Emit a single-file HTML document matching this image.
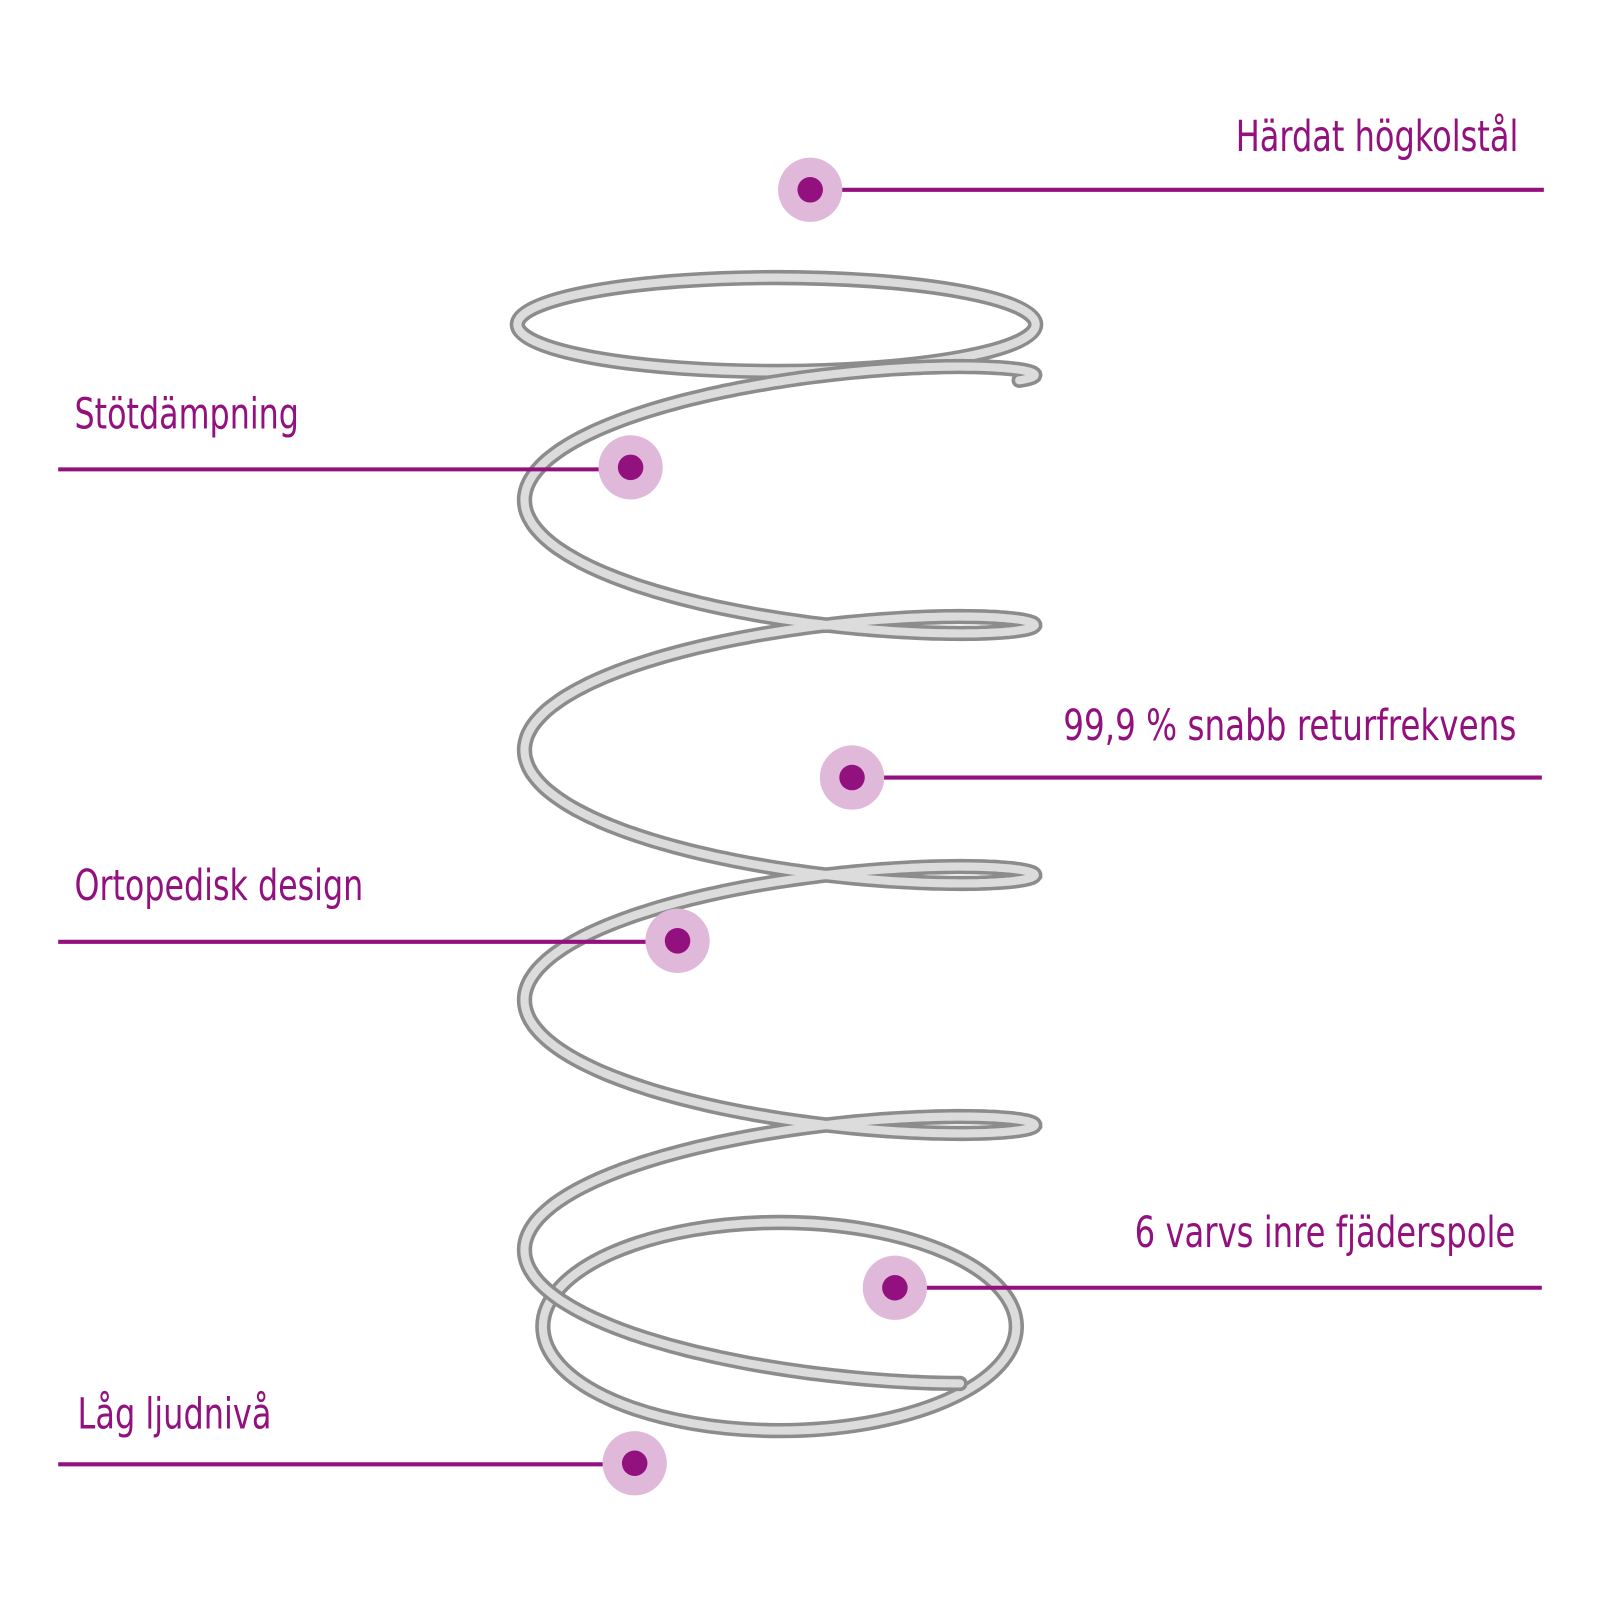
<!DOCTYPE html>
<html><head><meta charset="utf-8"><style>
html,body{margin:0;padding:0;background:#fff;}
svg{display:block}
text{font-family:"DejaVu Sans Condensed","DejaVu Sans","Liberation Sans",sans-serif;font-size:42px;fill:#92117e;}
</style></head><body>
<svg id="s" width="1600" height="1600" viewBox="0 0 1600 1600" xmlns="http://www.w3.org/2000/svg">
<g transform="scale(1.0204)">
<g id="spring" fill="none" stroke-linecap="round">
  <ellipse cx="761" cy="318" rx="254" ry="46" stroke="#8c8c8c" stroke-width="15"/>
  <ellipse cx="761" cy="318" rx="254" ry="46" stroke="#dcdcdc" stroke-width="8"/>
  <ellipse cx="764" cy="1300" rx="232" ry="102" stroke="#8c8c8c" stroke-width="15"/>
  <ellipse cx="764" cy="1300" rx="232" ry="102" stroke="#dcdcdc" stroke-width="8"/>
  <path id="h1" stroke="#8c8c8c" stroke-width="15"/>
  <path id="h2" stroke="#dcdcdc" stroke-width="8"/>
</g>
<g stroke="#92117e" stroke-width="4">
  <line x1="793" y1="186" x2="1513" y2="186"/>
  <line x1="57" y1="460" x2="618" y2="460"/>
  <line x1="835" y1="762" x2="1511" y2="762"/>
  <line x1="57" y1="923" x2="664" y2="923"/>
  <line x1="877" y1="1262" x2="1511" y2="1262"/>
  <line x1="57" y1="1435" x2="622" y2="1435"/>
</g>
<g>
  <circle cx="794" cy="186" r="31.5" fill="#dfb8da"/><circle cx="794" cy="186" r="12.5" fill="#92117e"/>
  <circle cx="618" cy="458" r="31.5" fill="#dfb8da"/><circle cx="618" cy="458" r="12.5" fill="#92117e"/>
  <circle cx="835" cy="762" r="31.5" fill="#dfb8da"/><circle cx="835" cy="762" r="12.5" fill="#92117e"/>
  <circle cx="664" cy="922" r="31.5" fill="#dfb8da"/><circle cx="664" cy="922" r="12.5" fill="#92117e"/>
  <circle cx="877" cy="1262" r="31.5" fill="#dfb8da"/><circle cx="877" cy="1262" r="12.5" fill="#92117e"/>
  <circle cx="622" cy="1434" r="31.5" fill="#dfb8da"/><circle cx="622" cy="1434" r="12.5" fill="#92117e"/>
</g>
<text x="1211" y="148" textLength="277" lengthAdjust="spacingAndGlyphs">Härdat högkolstål</text>
<text x="73" y="420" textLength="220" lengthAdjust="spacingAndGlyphs">Stötdämpning</text>
<text x="1042" y="725" textLength="444" lengthAdjust="spacingAndGlyphs">99,9 % snabb returfrekvens</text>
<text x="73" y="882" textLength="283" lengthAdjust="spacingAndGlyphs">Ortopedisk design</text>
<text x="1112" y="1222" textLength="373" lengthAdjust="spacingAndGlyphs">6 varvs inre fjäderspole</text>
<text x="76" y="1400" textLength="190" lengthAdjust="spacingAndGlyphs">Låg ljudnivå</text>
</g>
</svg>
<script>
(function(){
  var d="";
  var t0=-0.35, t1=7.75*Math.PI, n=900;
  for(var i=0;i<=n;i++){
    var t=t0+(t1-t0)*i/n;
    var x=764+250*Math.cos(t);
    var y=367.5+245*t/(2*Math.PI)-55*Math.sin(t);
    d+=(i?"L":"M")+x.toFixed(1)+" "+y.toFixed(1);
  }
  document.getElementById("h1").setAttribute("d",d);
  document.getElementById("h2").setAttribute("d",d);
})();
</script>
</body></html>
